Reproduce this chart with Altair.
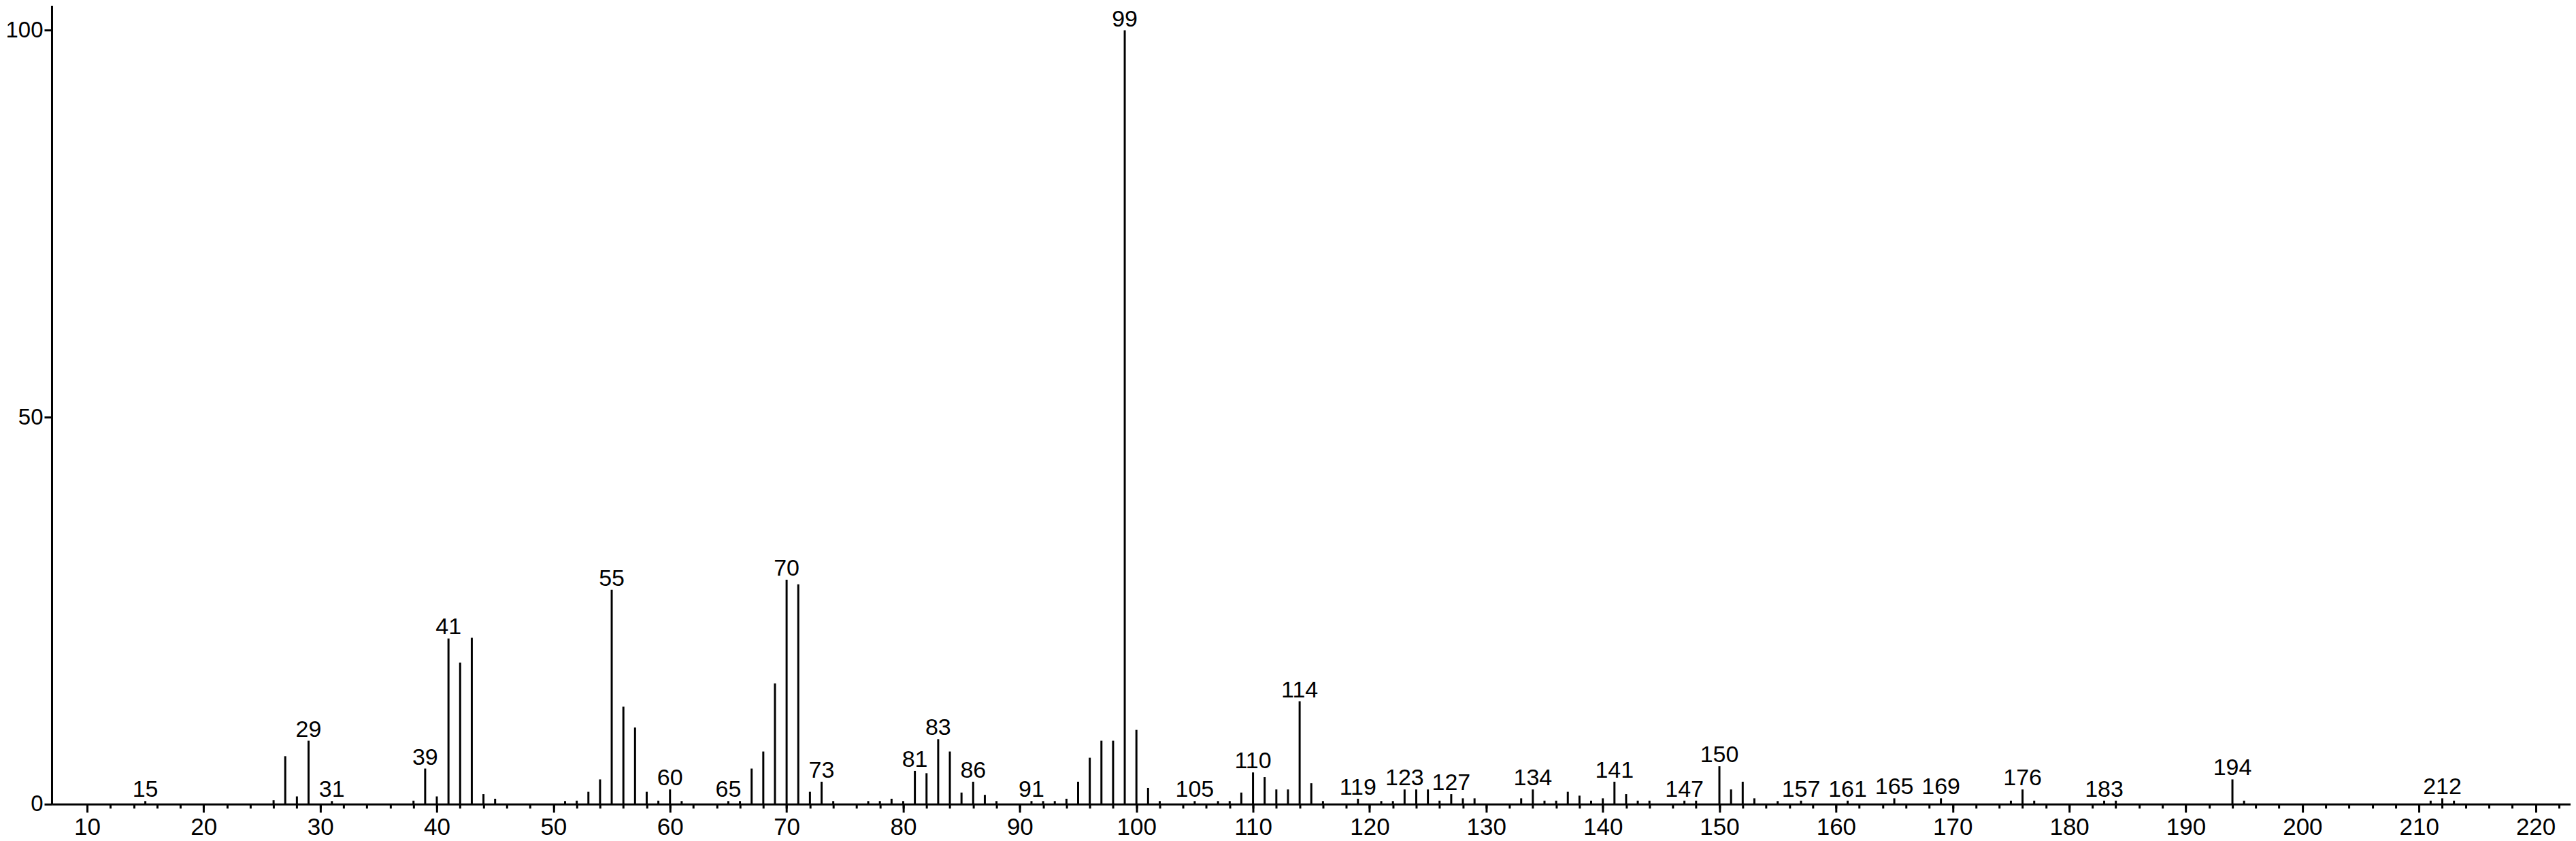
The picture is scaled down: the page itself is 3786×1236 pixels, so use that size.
import altair as alt
import pandas as pd

# m/z values of the peaks
mz = [15, 26, 27, 28, 29, 31, 38, 39, 40, 41, 42, 43, 44, 45, 51, 52, 53, 54, 55, 56,
      57, 58, 59, 60, 61, 65, 66, 67, 68, 69, 70, 71, 72, 73, 74, 77, 78, 79, 80, 81,
      82, 83, 84, 85, 86, 87, 88, 91, 92, 93, 94, 95, 96, 97, 98, 99, 100, 101, 102, 105,
      107, 108, 109, 110, 111, 112, 113, 114, 115, 116, 119, 121, 122, 123, 124, 125, 126, 127, 128, 129,
      133, 134, 135, 136, 137, 138, 139, 140, 141, 142, 143, 144, 147, 148, 150, 151, 152, 153, 155, 157,
      161, 165, 169, 175, 176, 177, 183, 184, 194, 195, 211, 212, 213]

# relative intensities (%)
intensity = [0.4, 0.5, 6.2, 1.0, 8.2, 0.4, 0.45, 4.6, 1.0, 21.4, 18.3, 21.5, 1.3, 0.7, 0.4, 0.45, 1.6, 3.2, 27.7, 12.6,
             9.9, 1.6, 0.45, 1.9, 0.4, 0.4, 0.4, 4.6, 6.8, 15.6, 29.0, 28.4, 1.6, 2.9, 0.4, 0.4, 0.4, 0.7, 0.4, 4.3,
             4.0, 8.4, 6.8, 1.5, 2.9, 1.2, 0.4, 0.4, 0.4, 0.4, 0.7, 2.9, 6.0, 8.2, 8.2, 100.0, 9.6, 2.1, 0.4, 0.4,
             0.4, 0.4, 1.5, 4.1, 3.5, 1.9, 1.9, 13.3, 2.7, 0.4, 0.7, 0.4, 0.4, 1.9, 1.9, 1.9, 0.45, 1.3, 0.75, 0.75,
             0.75, 1.9, 0.45, 0.45, 1.6, 1.1, 0.45, 0.75, 2.9, 1.3, 0.45, 0.45, 0.45, 0.45, 4.9, 1.9, 2.9, 0.75, 0.4, 0.45,
             0.45, 0.75, 0.75, 0.45, 1.9, 0.45, 0.45, 0.45, 3.2, 0.45, 0.45, 0.75, 0.45]

# peaks that carry an m/z label
labeled = [15, 29, 31, 39, 41, 55, 60, 65, 70, 73, 81, 83, 86, 91, 99, 105, 110, 114, 119, 123,
           127, 134, 141, 147, 150, 157, 161, 165, 169, 176, 183, 194, 212]

x_major = list(range(10, 221, 10))
x_minor = list(range(10, 223, 2))
y_ticks = [0, 50, 100]

FONT = "Liberation Sans"

df = pd.DataFrame({"mz": mz, "intensity": intensity})
df["base"] = 0.0
lab = df[df["mz"].isin(labeled)].copy()
lab["text"] = lab["mz"].astype(str)

xscale = alt.Scale(domain=[6.97, 223], nice=False, zero=False)
yscale = alt.Scale(domain=[0, 103.2], nice=False, zero=True)

major_axis = alt.Axis(values=x_major, title=None, orient="bottom", tickSize=12, tickWidth=3,
                      tickColor="black", domainColor="black", domainWidth=3, labelFont=FONT,
                      labelFontSize=35, labelColor="black", labelPadding=5, grid=False,
                      labelFlush=False, labelOverlap=False, format="d")
minor_axis = alt.Axis(values=x_minor, title=None, orient="bottom", tickSize=6, tickWidth=3,
                      tickColor="black", domain=False, labels=False, grid=False)
y_axis = alt.Axis(values=y_ticks, title=None, orient="left", tickSize=11, tickWidth=3,
                  tickColor="black", domainColor="black", domainWidth=3, labelFont=FONT,
                  labelFontSize=33, labelColor="black", labelPadding=2, grid=False,
                  labelFlush=False, labelOverlap=False, format="d")

peaks = alt.Chart(df).mark_rule(color="black", strokeWidth=3).encode(
    x=alt.X("mz:Q", scale=xscale, axis=major_axis),
    y=alt.Y("intensity:Q", scale=yscale, axis=y_axis),
    y2=alt.Y2("base:Q"),
)

labels = alt.Chart(lab).mark_text(font=FONT, fontSize=34, color="black", baseline="alphabetic",
                                  align="center", dy=-6).encode(
    x=alt.X("mz:Q", scale=xscale, axis=minor_axis),
    y=alt.Y("intensity:Q", scale=yscale, axis=y_axis),
    text="text:N",
)

chart = alt.layer(peaks, labels).resolve_axis(x="independent").properties(
    width=3703, height=1174,
    autosize=alt.AutoSizeParams(type="none"),
    padding={"left": 68, "top": 0, "right": 0, "bottom": 54},
    background="white",
).configure_view(stroke=None)

chart.save("out.html", embed_options={"renderer": "svg", "actions": False})
